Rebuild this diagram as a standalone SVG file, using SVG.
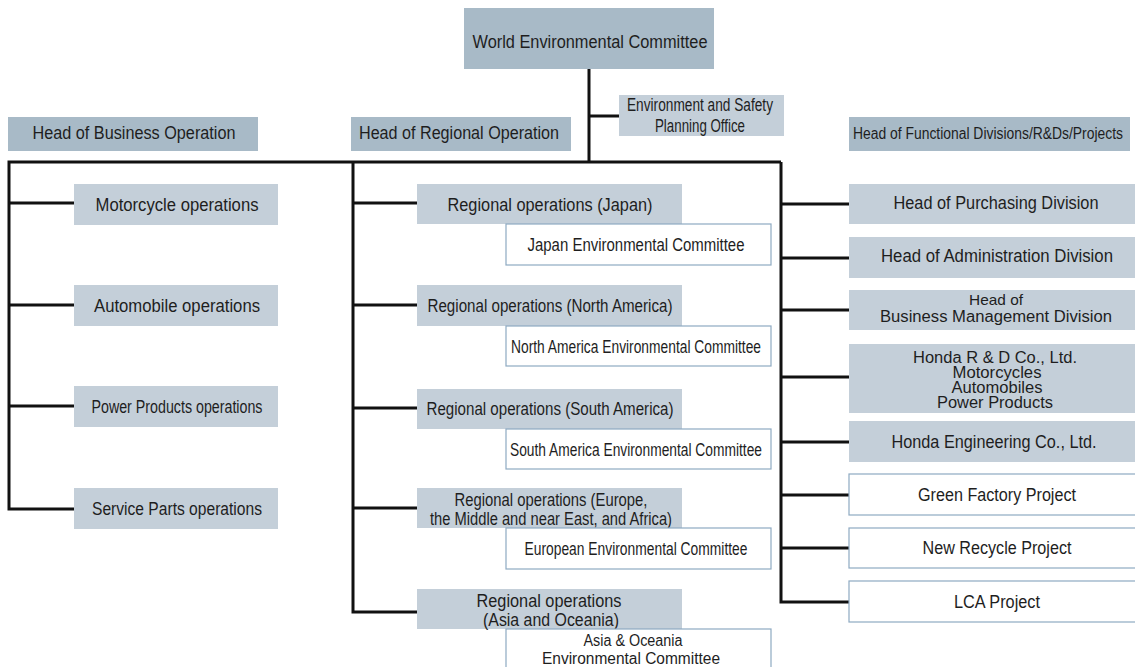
<svg xmlns="http://www.w3.org/2000/svg" width="1135" height="667" viewBox="0 0 1135 667">
<style>
.hd{fill:#a8bac7}
.lt{fill:#c4cfd9}
.wh{fill:#ffffff;stroke:#8eaac2;stroke-width:1.2}
text{font-family:"Liberation Sans",Arial,sans-serif;font-size:17.5px;fill:#1e1e1e;text-anchor:middle}
.sm{font-size:16px}
.xs{font-size:15px}
.cn{fill:none;stroke:#111;stroke-width:3;stroke-linejoin:miter;stroke-linecap:butt}
</style>
<rect width="1135" height="667" fill="#ffffff"/>
<g id="connectors" class="cn">
<path d="M589 69V162M589 116H619"/>
<path d="M781 162H9V509H74"/>
<path d="M9 203H74M9 305H74M9 406H74"/>
<path d="M353 162V612H417M353 203H417M353 305H417M353 408H417M353 508H417"/>
<path d="M781 162V602H849M781 204H849M781 258H849M781 310H849M781 377H849M781 442H849M781 495H849M781 548H849"/>
</g>
<g id="world"><rect class="hd" x="464" y="8" width="250" height="61"/><text x="590" y="48" textLength="235" lengthAdjust="spacingAndGlyphs">World Environmental Committee</text></g>
<g id="envsafety"><rect class="lt" x="619" y="95" width="165" height="41"/><text x="700" y="111" textLength="146" lengthAdjust="spacingAndGlyphs">Environment and Safety</text><text x="700" y="132" textLength="90" lengthAdjust="spacingAndGlyphs">Planning Office</text></g>
<g id="hbo"><rect class="hd" x="8" y="117" width="250" height="34"/><text x="134" y="139" textLength="203" lengthAdjust="spacingAndGlyphs">Head of Business Operation</text></g>
<g id="hro"><rect class="hd" x="351" y="117" width="220" height="34"/><text x="459" y="139" textLength="200" lengthAdjust="spacingAndGlyphs">Head of Regional Operation</text></g>
<g id="hfd"><rect class="hd" x="849" y="117" width="281" height="34"/><text class="sm" x="988" y="139" textLength="270" lengthAdjust="spacingAndGlyphs">Head of Functional Divisions/R&amp;Ds/Projects</text></g>
<g id="moto"><rect class="lt" x="74" y="184" width="204" height="41"/><text x="177" y="211" textLength="163" lengthAdjust="spacingAndGlyphs">Motorcycle operations</text></g>
<g id="auto"><rect class="lt" x="74" y="285" width="204" height="41"/><text x="177" y="312" textLength="166" lengthAdjust="spacingAndGlyphs">Automobile operations</text></g>
<g id="power"><rect class="lt" x="74" y="386" width="204" height="41"/><text x="177" y="413" textLength="171" lengthAdjust="spacingAndGlyphs">Power Products operations</text></g>
<g id="parts"><rect class="lt" x="74" y="488" width="204" height="41"/><text x="177" y="515" textLength="170" lengthAdjust="spacingAndGlyphs">Service Parts operations</text></g>
<g id="rjapan"><rect class="lt" x="417" y="184" width="265" height="40"/><text x="550" y="211" textLength="205" lengthAdjust="spacingAndGlyphs">Regional operations (Japan)</text></g>
<g id="jec"><rect class="wh" x="506" y="224" width="265" height="41"/><text x="636" y="251" textLength="217" lengthAdjust="spacingAndGlyphs">Japan Environmental Committee</text></g>
<g id="rna"><rect class="lt" x="417" y="285" width="265" height="41"/><text x="550" y="312" textLength="245" lengthAdjust="spacingAndGlyphs">Regional operations (North America)</text></g>
<g id="naec"><rect class="wh" x="506" y="326" width="265" height="40"/><text x="636" y="353" textLength="250" lengthAdjust="spacingAndGlyphs">North America Environmental Committee</text></g>
<g id="rsa"><rect class="lt" x="417" y="389" width="265" height="40"/><text x="550" y="415" textLength="247" lengthAdjust="spacingAndGlyphs">Regional operations (South America)</text></g>
<g id="saec"><rect class="wh" x="506" y="429" width="265" height="40"/><text x="636" y="456" textLength="252" lengthAdjust="spacingAndGlyphs">South America Environmental Committee</text></g>
<g id="reu"><rect class="lt" x="417" y="488" width="265" height="40"/><text x="551" y="506" textLength="193" lengthAdjust="spacingAndGlyphs">Regional operations (Europe,</text><text x="551" y="525" textLength="242" lengthAdjust="spacingAndGlyphs">the Middle and near East, and Africa)</text></g>
<g id="euec"><rect class="wh" x="506" y="528" width="265" height="41"/><text x="636" y="555" textLength="223" lengthAdjust="spacingAndGlyphs">European Environmental Committee</text></g>
<g id="rasia"><rect class="lt" x="417" y="589" width="265" height="40"/><text x="549" y="607" textLength="145" lengthAdjust="spacingAndGlyphs">Regional operations</text><text x="551" y="626" textLength="136" lengthAdjust="spacingAndGlyphs">(Asia and Oceania)</text></g>
<g id="asec"><rect class="wh" x="506" y="629" width="265" height="45"/><text class="sm" x="633" y="646" textLength="99" lengthAdjust="spacingAndGlyphs">Asia &amp; Oceania</text><text class="sm" x="631" y="664" textLength="178" lengthAdjust="spacingAndGlyphs">Environmental Committee</text></g>
<g id="purch"><rect class="lt" x="849" y="184" width="286" height="40"/><text x="996" y="209" textLength="205" lengthAdjust="spacingAndGlyphs">Head of Purchasing Division</text></g>
<g id="admin"><rect class="lt" x="849" y="237" width="286" height="41"/><text x="997" y="262" textLength="232" lengthAdjust="spacingAndGlyphs">Head of Administration Division</text></g>
<g id="bmd"><rect class="lt" x="849" y="290" width="286" height="40"/><text class="xs" x="996" y="305" textLength="54" lengthAdjust="spacingAndGlyphs">Head of</text><text class="sm" x="996" y="322" textLength="232" lengthAdjust="spacingAndGlyphs">Business Management Division</text></g>
<g id="rd"><rect class="lt" x="849" y="344" width="286" height="69"/><text class="sm" x="995" y="363" textLength="164" lengthAdjust="spacingAndGlyphs">Honda R &amp; D Co., Ltd.</text><text class="sm" x="997" y="378" textLength="89" lengthAdjust="spacingAndGlyphs">Motorcycles</text><text class="sm" x="997" y="393" textLength="91" lengthAdjust="spacingAndGlyphs">Automobiles</text><text class="sm" x="995" y="408" textLength="116" lengthAdjust="spacingAndGlyphs">Power Products</text></g>
<g id="eng"><rect class="lt" x="849" y="421" width="286" height="41"/><text x="994" y="448" textLength="205" lengthAdjust="spacingAndGlyphs">Honda Engineering Co., Ltd.</text></g>
<g id="green"><rect class="wh" x="849" y="474" width="290" height="41"/><text x="997" y="501" textLength="158" lengthAdjust="spacingAndGlyphs">Green Factory Project</text></g>
<g id="recycle"><rect class="wh" x="849" y="528" width="290" height="40"/><text x="997" y="554" textLength="149" lengthAdjust="spacingAndGlyphs">New Recycle Project</text></g>
<g id="lca"><rect class="wh" x="849" y="581" width="290" height="41"/><text x="997" y="608" textLength="86" lengthAdjust="spacingAndGlyphs">LCA Project</text></g>
</svg>
